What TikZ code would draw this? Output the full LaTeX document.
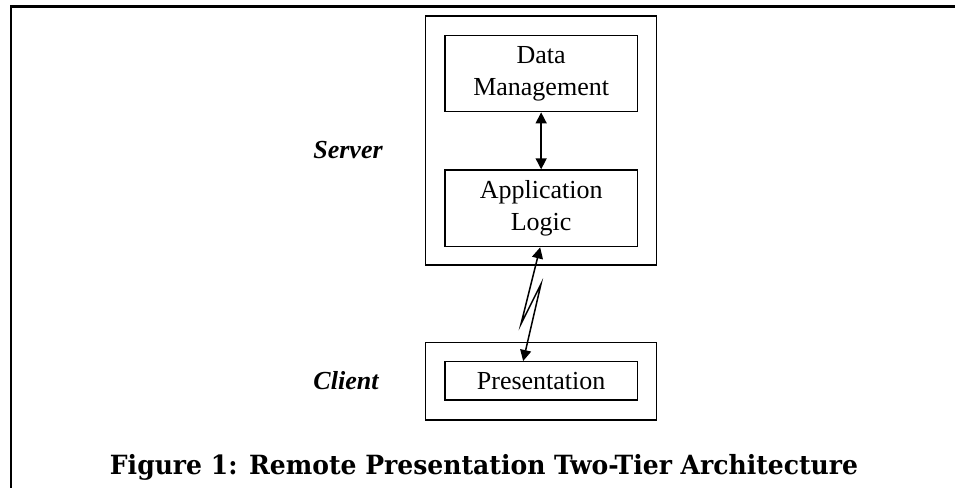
\documentclass[tikz,border=0pt]{standalone}
\usepackage{fontspec}
\setmainfont{Liberation Serif}
\newfontfamily\capfont{DejaVu Serif}
\usetikzlibrary{arrows.meta,calc}
\tikzset{
  frame/.style={line width=2.6pt},
  tierbox/.style={draw, line width=1.4pt, inner sep=0pt},
  compbox/.style={draw, line width=1.4pt, inner sep=0pt, align=center,
    font=\fontsize{26}{31.5}\selectfont},
  tierlabel/.style={font=\fontsize{26}{31.5}\selectfont\bfseries\itshape, anchor=base},
  link/.style={line width=1.5pt, {Triangle[length=11pt,width=11pt]}-{Triangle[length=11pt,width=11pt]}}
}
\begin{document}
\begin{tikzpicture}[x=1pt,y=-1pt]
\useasboundingbox (0,0) rectangle (955,487);
\coordinate (fbl) at (11,490);
\coordinate (ftl) at (11,6.5);
\coordinate (ftr) at (958,6.5);
\draw[frame] (fbl) -- (ftl) -- (ftr);
% tiers
\node[tierbox, minimum width=231pt, minimum height=249pt] (server) at (541.2,140.5) {};
\node[tierbox, minimum width=231pt, minimum height=77.7pt] (client) at (541.2,381.15) {};
% components
\node[compbox, minimum width=192.3pt, minimum height=76pt] (dm) at (541.15,73.7) {Data\\Management};
\node[compbox, minimum width=192.3pt, minimum height=76.7pt] (al) at (541.15,208.35) {Application\\Logic};
\node[compbox, minimum width=192.3pt, minimum height=38.3pt] (pr) at (541.15,380.85) {Presentation};
% labels
\node[tierlabel] (srvlbl) at (348,158.3) {Server};
\node[tierlabel] (cltlbl) at (346,389) {Client};
% connectors
\coordinate (zz1) at (521,324);
\coordinate (zz2) at (541,284);
\draw[link] (dm.south) -- (al.north);
\draw[link] ($(al.south)+(-1,0)$) -- (zz1) -- (zz2) -- ($(pr.north)+(-18,0)$);
% caption
\node[anchor=base] (cap) at (484,474.3) {\resizebox{748pt}{20.1pt}{\capfont\bfseries Figure 1: Remote Presentation Two-Tier Architecture}};
\end{tikzpicture}
\end{document}
